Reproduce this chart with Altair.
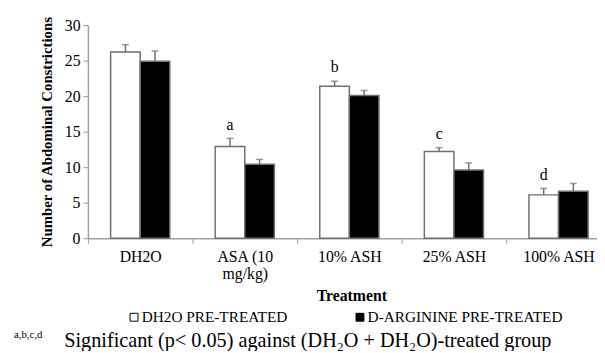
import altair as alt
import pandas as pd

treatments = ["DH2O", "ASA (10 mg/kg)", "10% ASH", "25% ASH", "100% ASH"]
series = ["DH2O PRE-TREATED", "D-ARGININE PRE-TREATED"]
dh2o_vals = [26.2, 12.9, 21.4, 12.2, 6.1]
darg_vals = [24.9, 10.4, 20.1, 9.6, 6.6]
dh2o_err = [1.05, 1.15, 0.7, 0.55, 0.9]
darg_err = [1.45, 0.7, 0.7, 1.0, 1.1]
letters = ["", "a", "b", "c", "d"]
footnote_sup = "a,b,c,d"
footnote = "Significant (p< 0.05) against (DH\u2082O + DH\u2082O)-treated group"

rows = []
for i, t in enumerate(treatments):
    rows.append({"treatment": t, "series": series[0], "value": dh2o_vals[i],
                 "upper": dh2o_vals[i] + dh2o_err[i], "letter": letters[i]})
    rows.append({"treatment": t, "series": series[1], "value": darg_vals[i],
                 "upper": darg_vals[i] + darg_err[i], "letter": ""})
df = pd.DataFrame(rows)

FONT = "Liberation Serif"
W = 516
H = 216

xaxis = alt.Axis(title="Treatment", titleFont=FONT, titleFontSize=16, titleFontWeight="bold",
                 titleColor="black", titleX=267, titlePadding=6,
                 labelFont=FONT, labelFontSize=16, labelColor="black", labelAngle=0,
                 labelPadding=6, labelLineHeight=17,
                 labelExpr="datum.value == 'ASA (10 mg/kg)' ? ['ASA (10', 'mg/kg)'] : datum.value",
                 tickBand="extent", tickSize=5, tickColor="#999999", domainColor="#a0a0a0",
                 domainWidth=1.5, tickWidth=1)
yaxis = alt.Axis(title="Number of Abdominal Constrictions", titleFont=FONT, titleFontSize=15,
                 titleFontWeight="bold", titleColor="black", titlePadding=10,
                 labelFont=FONT, labelFontSize=16, labelColor="black", values=[0, 5, 10, 15, 20, 25, 30],
                 labelOverlap=False, tickSize=5, tickColor="#999999", domainColor="#a0a0a0", domainWidth=1.5,
                 labelPadding=3, grid=False)
xscale = alt.Scale(domain=treatments, range=[0, 530], paddingInner=0, paddingOuter=0)
yscale = alt.Scale(domain=[0, 30], nice=False)


def X():
    return alt.X("treatment:N", sort=treatments, scale=xscale, axis=xaxis)


def XO():
    return alt.XOffset("series:N", sort=series,
                       scale=alt.Scale(domain=series, paddingInner=0, paddingOuter=0.767))


def Y(field):
    return alt.Y(f"{field}:Q", scale=yscale, axis=yaxis)


base = alt.Chart(df)

bars = base.mark_bar(stroke="#707070", strokeWidth=1.5).encode(
    x=X(), xOffset=XO(), y=Y("value"),
    fill=alt.Fill("series:N", sort=series,
                  scale=alt.Scale(domain=series, range=["white", "black"]),
                  legend=alt.Legend(title=None, orient="none", legendX=39, legendY=288, direction="horizontal",
                                    columns=2, columnPadding=65, symbolType="square", symbolSize=64,
                                    symbolStrokeColor="black", symbolStrokeWidth=1, labelFont=FONT,
                                    labelFontSize=15.5, labelColor="black", labelOffset=0, labelLimit=400)),
)

err = base.mark_rule(color="#707070", strokeWidth=1.5).encode(
    x=X(), xOffset=XO(), y=Y("value"), y2="upper:Q")

caps = base.mark_tick(color="#707070", thickness=1.5, size=7, orient="horizontal").encode(
    x=X(), xOffset=XO(), y=Y("upper"))

labels = base.mark_text(font=FONT, fontSize=16, color="black", baseline="middle", dy=-14).encode(
    x=X(), xOffset=XO(), y=Y("upper"), text="letter:N")

fn_df = pd.DataFrame({"sup": [footnote_sup], "txt": [footnote]})
sup = alt.Chart(fn_df).mark_text(font=FONT, fontSize=11, color="black", align="left", baseline="middle").encode(
    x=alt.value(-75), y=alt.value(314), text="sup:N")
fn = alt.Chart(fn_df).mark_text(font=FONT, fontSize=20.5, color="black", align="left", baseline="middle").encode(
    x=alt.value(-24), y=alt.value(320), text="txt:N")

chart = alt.layer(bars, err, caps, labels, sup, fn).properties(
    width=W, height=H,
    autosize=alt.AutoSizeParams(type="none"),
    padding={"left": 81, "top": 15, "right": 0, "bottom": 112},
).configure_view(stroke=None)

chart.save("out.html", embed_options={"renderer": "svg", "actions": False})
